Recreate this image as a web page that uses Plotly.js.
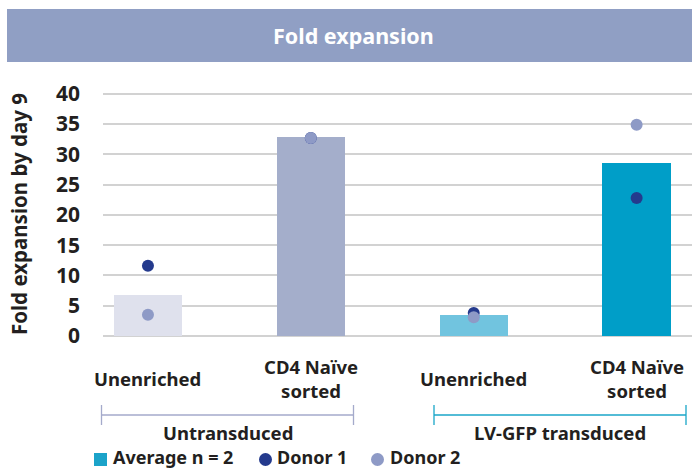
<!DOCTYPE html>
<html>
<head>
<meta charset="utf-8">
<script src="https://cdn.plot.ly/plotly-3.0.1.min.js"></script>
<style>html,body{margin:0;padding:0;background:#fff;}#chart{width:692px;height:469px;}</style>
</head>
<body>
<div id="chart"></div>
<script>
// Data
const categories = ["Unenriched", "CD4 Naïve<br>sorted", "Unenriched", "CD4 Naïve<br>sorted"];
const averageValues = [6.8, 32.9, 3.5, 28.6];
const donor1Values = [11.6, 32.7, 3.8, 22.8];
const donor2Values = [3.5, 32.7, 3.1, 34.9];
const groupLabels = ["Untransduced", "LV-GFP transduced"];
const legendLabels = ["Average n = 2", "Donor 1", "Donor 2"];
const yTickValues = [0, 5, 10, 15, 20, 25, 30, 35, 40];

const barColors = ["#dfe1ed", "#a4aecb", "#71c4df", "#009ec8"];
const donor1Color = "#243a8d";
const donor2Color = "#8e9ac6";
const textColor = "#231f20";
const FONT = "Noto Sans, Open Sans, sans-serif";

const xIdx = categories.map((_, i) => i);

const traces = [
  {type: "bar", x: xIdx, y: averageValues, width: 0.42,
   marker: {color: barColors, line: {width: 0}}, showlegend: false, hoverinfo: "none"},
  {type: "scatter", mode: "markers", x: xIdx, y: donor1Values,
   marker: {color: donor1Color, size: 12}, showlegend: false, hoverinfo: "none"},
  {type: "scatter", mode: "markers", x: xIdx, y: donor2Values,
   marker: {color: donor2Color, size: 12}, showlegend: false, hoverinfo: "none"}
];

// pixel helpers (plot area: x 103..692, y 92..336)
const L = 103, W = 589, B = 336, H = 244;
const px = v => (v - L) / W;
const py = v => (B - v) / H;

const shapes = [
  {type: "rect", xref: "paper", yref: "paper", x0: px(7), x1: px(692), y0: py(62), y1: py(9),
   fillcolor: "#909fc4", line: {width: 0}, layer: "below"},
  // brackets
  {type: "line", xref: "paper", yref: "paper", x0: px(101.5), x1: px(353.5), y0: py(415), y1: py(415), line: {color: "#a4aacb", width: 1.3}},
  {type: "line", xref: "paper", yref: "paper", x0: px(101.5), x1: px(101.5), y0: py(405), y1: py(425), line: {color: "#a4aacb", width: 1.3}},
  {type: "line", xref: "paper", yref: "paper", x0: px(353.5), x1: px(353.5), y0: py(405), y1: py(425), line: {color: "#a4aacb", width: 1.3}},
  {type: "line", xref: "paper", yref: "paper", x0: px(434), x1: px(686), y0: py(415), y1: py(415), line: {color: "#1aa6c8", width: 1.3}},
  {type: "line", xref: "paper", yref: "paper", x0: px(434), x1: px(434), y0: py(405), y1: py(425), line: {color: "#1aa6c8", width: 1.3}},
  {type: "line", xref: "paper", yref: "paper", x0: px(686), x1: px(686), y0: py(405), y1: py(425), line: {color: "#1aa6c8", width: 1.3}},
  // legend symbols
  {type: "rect", xref: "paper", yref: "paper", x0: px(94), x1: px(107), y0: py(466), y1: py(453), fillcolor: "#1ba3c9", line: {width: 0}},
  {type: "circle", xref: "paper", yref: "paper", x0: px(259), x1: px(272), y0: py(466), y1: py(453), fillcolor: donor1Color, line: {width: 0}},
  {type: "circle", xref: "paper", yref: "paper", x0: px(371), x1: px(384), y0: py(466), y1: py(453), fillcolor: donor2Color, line: {width: 0}}
];

const annotations = [
  {text: "Fold expansion", xref: "paper", yref: "paper", x: px(353), y: py(36), showarrow: false,
   xanchor: "center", yanchor: "middle", font: {family: FONT, size: 21.5, color: "#ffffff", weight: 700}}
];
categories.forEach((c, i) => annotations.push({
  text: c, xref: "x", yref: "paper", x: i, y: py(378), showarrow: false,
  xanchor: "center", yanchor: "middle", align: "center",
  font: {family: FONT, size: 18.5, color: textColor, weight: 700}
}));
[227.5, 560].forEach((cx, i) => annotations.push({
  text: groupLabels[i], xref: "paper", yref: "paper", x: px(cx), y: py(432), showarrow: false,
  xanchor: "center", yanchor: "middle", font: {family: FONT, size: 18.5, color: textColor, weight: 700}
}));
[113, 277, 390].forEach((lx, i) => annotations.push({
  text: legendLabels[i], xref: "paper", yref: "paper", x: px(lx), y: py(457), showarrow: false,
  xanchor: "left", yanchor: "middle", xshift: -2, font: {family: FONT, size: 18, color: textColor, weight: 700}
}));

const layout = {
  width: 692, height: 469,
  margin: {l: L, r: 0, t: 92, b: 133, pad: 0},
  paper_bgcolor: "#ffffff", plot_bgcolor: "#ffffff",
  showlegend: false,
  xaxis: {range: [-0.276, 3.34], showticklabels: false, showgrid: false, zeroline: false, ticks: "", fixedrange: true},
  yaxis: {range: [0, 40.3], tickvals: yTickValues, ticktext: yTickValues.map(String),
          showgrid: true, gridcolor: "#d2d2d2", gridwidth: 2, zeroline: true, zerolinecolor: "#d2d2d2", zerolinewidth: 2,
          ticks: "", ticklabelstandoff: 22,
          tickfont: {family: FONT, size: 21, color: textColor, weight: 700},
          title: {text: "Fold expansion by day 9", standoff: 22, font: {family: FONT, size: 20.5, color: textColor, weight: 700}}},
  shapes: shapes,
  annotations: annotations,
  bargap: 0
};

Plotly.newPlot("chart", traces, layout, {displayModeBar: false, staticPlot: true});
</script>
</body>
</html>
